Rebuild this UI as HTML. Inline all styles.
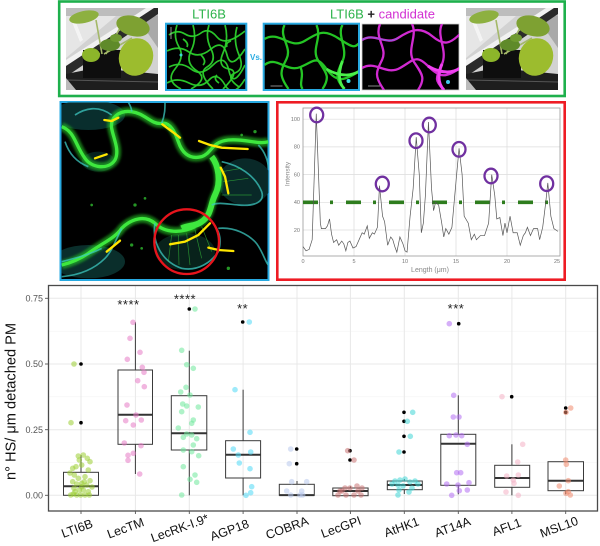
<!DOCTYPE html>
<html><head><meta charset="utf-8"><style>
html,body{margin:0;padding:0;background:#fff;}
svg{display:block;}
text{font-family:"Liberation Sans",sans-serif;}
</style></head><body>
<svg width="600" height="546" viewBox="0 0 600 546" xmlns="http://www.w3.org/2000/svg">
<defs>
<filter id="glow" x="-20%" y="-20%" width="140%" height="140%"><feGaussianBlur stdDeviation="4"/></filter>
<clipPath id="cBig" clipPathUnits="userSpaceOnUse"><rect x="20" y="22" width="620" height="528"/></clipPath>
<clipPath id="cA"><rect x="0" y="0" width="78" height="64"/></clipPath>
<clipPath id="cB"><rect x="0" y="0" width="93.5" height="64"/></clipPath>
<clipPath id="cC"><rect x="0" y="0" width="97" height="66"/></clipPath>
<clipPath id="cP"><rect x="0" y="0" width="92" height="82"/></clipPath>
<g id="plant">
 <g clip-path="url(#cP)">
 <rect x="0" y="0" width="92" height="82" fill="#d2d2d2"/>
 <rect x="0" y="0" width="92" height="8" fill="#bdbdbd"/>
 <polygon points="0,8 50,8 0,50" fill="#e6e6e6"/>
 <polygon points="70,8 92,8 92,40" fill="#a9a9a9"/>
 <polygon points="0,52 80,0 88,0 0,58" fill="#f2f2f2"/>
 <polygon points="0,58 88,0 92,0 92,6 4,66 0,66" fill="#2a2a2a"/>
 <polygon points="6,14 9,12 17,32 14,34" fill="#f4f4f4"/>
 <polygon points="0,66 30,60 92,66 92,82 0,82" fill="#1e1e1e"/>
 <line x1="0" y1="72" x2="92" y2="74" stroke="#555" stroke-width="1"/>
 <polygon points="0,70 10,82 0,82" fill="#bbb"/>
 <rect x="17" y="42" width="38" height="28" fill="#0e0e0e"/>
 <path d="M36,46 L30,12 M40,46 L55,18 M38,46 L66,30 M34,46 L22,44" stroke="#a4b868" stroke-width="1.6" fill="none"/>
 <ellipse cx="18" cy="9" rx="15" ry="6" fill="#8db040" transform="rotate(-12 18 9)"/>
 <ellipse cx="67" cy="18" rx="17" ry="10" fill="#7ea132" transform="rotate(15 67 18)"/>
 <ellipse cx="44" cy="37" rx="10" ry="6" fill="#5f8a2a"/>
 <ellipse cx="25" cy="47" rx="9" ry="7" fill="#8cb52a"/>
 <ellipse cx="70" cy="49" rx="17" ry="19" fill="#9cbc2e" transform="rotate(20 70 49)"/>
 <ellipse cx="50" cy="30" rx="6" ry="4" fill="#6f9a30"/>
 </g>
</g>
</defs>

<!-- ===== TOP PANEL ===== -->
<rect x="59.2" y="1.5" width="505.5" height="94.5" fill="#fff" stroke="#1eb04c" stroke-width="2.6"/>
<use href="#plant" transform="translate(66,8)"/>
<use href="#plant" transform="translate(466,8)"/>

<!-- LTI6B image -->
<rect x="166" y="23.7" width="80.3" height="66.3" fill="#000" stroke="#27a9e1" stroke-width="2"/>
<g transform="translate(167,25)">
<g clip-path="url(#cA)" fill="none">
 <g stroke="#2ccf2c" stroke-width="1.7" stroke-opacity="0.95">
 <path d="M2,10 Q10,4 18,9 T34,8 T50,12 T78,6"/>
 <path d="M0,26 Q12,20 22,27 T44,24 T60,30 T78,24"/>
 <path d="M2,42 Q14,36 24,44 T46,40 T62,46 T78,40"/>
 <path d="M0,58 Q10,52 22,58 T42,55 T58,60 T78,54"/>
 <path d="M10,0 Q6,12 12,22 T8,44 T14,64"/>
 <path d="M26,0 Q30,14 24,26 T30,46 T24,64"/>
 <path d="M42,0 Q38,12 44,24 T40,42 T46,64"/>
 <path d="M58,0 Q62,14 56,28 T62,44 T56,64"/>
 <path d="M70,2 Q66,16 72,30 T68,48 T72,62"/>
 <path d="M16,14 q6,4 4,8 M34,30 q6,6 2,10 M50,50 q-4,4 2,8 M64,16 q-6,2 -4,6"/>
 </g>
 <circle cx="14" cy="30" r="1.5" fill="#3cd8d8"/>
 <line x1="4" y1="2" x2="4" y2="14" stroke="#bbb" stroke-width="0.8"/>
</g>
</g>
<text x="250" y="60" font-size="8" font-weight="bold" fill="#29abe2">Vs.</text>

<!-- LTI6B + candidate green -->
<rect x="263.7" y="23.7" width="95.3" height="66.3" fill="#000" stroke="#27a9e1" stroke-width="2"/>
<g transform="translate(264.5,25)">
<g clip-path="url(#cB)" fill="none">
 <g stroke="#24c424" stroke-width="2.3">
 <path d="M0,14 C15,5 25,25 40,16 S60,4 75,14 S90,22 95,18"/>
 <path d="M0,40 C12,30 22,48 36,42 S52,30 62,44 S80,56 95,46"/>
 <path d="M20,0 C14,12 28,22 22,34 S14,50 24,64"/>
 <path d="M52,0 C58,14 46,24 54,36 S66,52 58,64"/>
 <path d="M78,0 C72,10 84,24 78,36 S70,54 80,64"/>
 <path d="M36,42 C40,52 34,58 38,64"/>
 </g>
 <path d="M62,44 S80,56 95,46 M78,36 S70,54 80,64" stroke="#4af04a" stroke-width="2.8"/>
 <circle cx="84" cy="56" r="2" fill="#3ce0e0"/>
 <line x1="6" y1="61" x2="18" y2="61" stroke="#aaa" stroke-width="0.8"/>
</g>
</g>

<!-- candidate magenta -->
<rect x="362" y="24" width="97" height="66" fill="#000" stroke="#ccc" stroke-width="0.8"/>
<g transform="translate(362,24)">
<g clip-path="url(#cC)" fill="none">
 <g stroke="#d22ad2" stroke-width="2.3">
 <path d="M0,16 C12,8 24,22 36,14 S58,2 70,12 S88,20 98,10"/>
 <path d="M0,44 C14,36 24,52 38,44 S54,30 66,42 S84,54 98,44"/>
 <path d="M18,0 C12,14 26,24 20,36 S12,52 22,66"/>
 <path d="M50,0 C56,12 44,26 52,38 S64,54 56,66"/>
 <path d="M80,0 C74,12 86,26 80,40 S72,56 82,66"/>
 </g>
 <path d="M66,42 S84,54 98,44 M80,40 S72,56 82,66" stroke="#f040f0" stroke-width="3"/>
 <path d="M0,16 C12,8 24,22 36,14" stroke="#6a7ad8" stroke-width="1" stroke-opacity="0.7"/>
 <circle cx="86" cy="58" r="2" fill="#40c8e8"/>
 <line x1="6" y1="62" x2="18" y2="62" stroke="#aaa" stroke-width="0.8"/>
</g>
</g>

<text x="209" y="18.6" font-size="13" fill="#2cb34a" text-anchor="middle">LTI6B</text>
<text x="382.5" y="18.6" font-size="13" text-anchor="middle"><tspan fill="#2cb34a">LTI6B</tspan><tspan fill="#222" font-weight="bold"> + </tspan><tspan fill="#d22fd2">candidate</tspan></text>

<!-- ===== MIDDLE LEFT MICROSCOPY ===== -->
<rect x="60.5" y="102" width="208" height="178" fill="#000" stroke="#27a9e1" stroke-width="2"/>
<g transform="translate(55,95) scale(0.33333)">
 <g clip-path="url(#cBig)" fill="none">
  <ellipse cx="100" cy="60" rx="110" ry="45" fill="#0b3a38" opacity="0.8"/>
  <ellipse cx="570" cy="260" rx="80" ry="70" fill="#0a2e2c" opacity="0.9"/>
  <ellipse cx="100" cy="500" rx="110" ry="50" fill="#0c3a36" opacity="0.8"/>
  <ellipse cx="390" cy="470" rx="90" ry="55" fill="#0a2a22" opacity="0.8"/>
  <ellipse cx="130" cy="200" rx="50" ry="30" fill="#092a26" opacity="0.8"/>
  <g filter="url(#glow)" stroke="#2bd82b" stroke-width="26" stroke-opacity="0.55">
   <path d="M20,95 C60,110 60,150 90,190 C110,220 160,225 180,195 C195,165 175,130 170,100 C165,70 190,45 230,50 C270,55 290,90 320,85 C345,80 360,110 370,140 C380,170 400,195 440,185 C470,175 470,140 520,135 C570,130 610,150 640,140"/>
   <path d="M470,185 C490,210 500,260 480,300 C465,330 470,360 440,380 C420,395 400,390 380,400"/>
   <path d="M420,395 C380,415 330,415 300,385 C270,360 230,370 200,400 C180,430 140,445 100,475 C70,495 40,505 20,510"/>
  </g>
  <g stroke="#3ee83e" stroke-width="10">
   <path d="M20,95 C60,110 60,150 90,190 C110,220 160,225 180,195 C195,165 175,130 170,100 C165,70 190,45 230,50 C270,55 290,90 320,85 C345,80 360,110 370,140 C380,170 400,195 440,185 C470,175 470,140 520,135 C570,130 610,150 640,140"/>
   <path d="M470,185 C490,210 500,260 480,300 C465,330 470,360 440,380 C420,395 400,390 380,400" stroke-width="18"/>
   <path d="M420,395 C380,415 330,415 300,385 C270,360 230,370 200,400 C180,430 140,445 100,475 C70,495 40,505 20,510"/>
  </g>
  <g stroke="#3cc8c0" stroke-width="5" stroke-opacity="0.75">
   <path d="M300,385 C290,440 320,500 380,520 C430,530 470,500 490,470 C500,440 495,410 480,395"/>
   <path d="M500,200 C550,210 600,240 620,290 C630,320 600,335 550,330 C520,328 490,320 470,330"/>
   <path d="M490,400 C540,395 580,420 600,440 C620,460 630,500 640,510"/>
   <path d="M610,150 C630,170 640,200 640,220"/>
   <path d="M320,85 C330,60 330,40 330,22 M230,50 C230,40 225,30 220,22"/>
   <path d="M20,500 C60,490 100,480 140,460 M200,400 C180,440 170,470 150,490 C120,520 80,540 20,545"/>
   <path d="M60,60 C90,40 130,30 170,60 M30,140 C40,170 60,200 100,215"/>
  </g>
  <g stroke="#3dd83d" stroke-width="2" stroke-opacity="0.6">
   <path d="M350,420 L340,500 M370,420 L372,510 M395,415 L405,510 M420,405 L440,490 M440,395 L470,470"/>
   <path d="M500,230 L560,220 M505,260 L580,250 M500,300 L590,300"/>
  </g>
  <g fill="#36d636" opacity="0.7">
   <circle cx="240" cy="330" r="5"/><circle cx="270" cy="310" r="4"/><circle cx="230" cy="450" r="5"/><circle cx="260" cy="460" r="4"/>
   <circle cx="110" cy="330" r="4"/><circle cx="600" cy="110" r="5"/><circle cx="560" cy="120" r="4"/><circle cx="520" cy="520" r="5"/>
  </g>
  <g stroke="#ffe600" stroke-width="7" stroke-linecap="round">
   <path d="M148,75 L170,78 L190,68"/>
   <path d="M322,88 L345,105 L365,120 L375,128"/>
   <path d="M432,138 L465,150 L500,158 L578,162"/>
   <path d="M120,190 L155,178"/>
   <path d="M497,218 L510,245 L520,295"/>
   <path d="M155,470 L195,437"/>
   <path d="M345,448 L390,440 L430,420 L465,385"/>
   <path d="M460,458 L490,465 L535,468"/>
  </g>
  <circle cx="395" cy="440" r="97" stroke="#e8141c" stroke-width="7"/>
 </g>
</g>

<!-- ===== MIDDLE RIGHT PROFILE CHART ===== -->
<rect x="277.3" y="102.3" width="287.4" height="177.4" fill="#fff" stroke="#ee1c24" stroke-width="2.6"/>
<g stroke="#dcdcdc" stroke-width="0.7">
 <line x1="354" y1="108" x2="354" y2="256"/><line x1="405" y1="108" x2="405" y2="256"/>
 <line x1="456" y1="108" x2="456" y2="256"/><line x1="507" y1="108" x2="507" y2="256"/>
 <line x1="303" y1="119.2" x2="560" y2="119.2"/><line x1="303" y1="146.9" x2="560" y2="146.9"/>
 <line x1="303" y1="174.6" x2="560" y2="174.6"/><line x1="303" y1="202.3" x2="560" y2="202.3"/>
 <line x1="303" y1="230" x2="560" y2="230"/>
</g>
<rect x="303" y="108" width="257" height="148" fill="none" stroke="#999" stroke-width="0.8"/>
<g font-size="5.5" fill="#777" text-anchor="end">
 <text x="300" y="121">100</text><text x="300" y="148.7">80</text><text x="300" y="176.4">60</text>
 <text x="300" y="204.1">40</text><text x="300" y="231.8">20</text>
</g>
<g font-size="5.5" fill="#777" text-anchor="middle">
 <text x="303" y="263">0</text><text x="354" y="263">5</text><text x="405" y="263">10</text>
 <text x="456" y="263">15</text><text x="507" y="263">20</text><text x="557" y="263">25</text>
</g>
<text x="0" y="0" font-size="6.5" fill="#888" text-anchor="middle" transform="translate(289.5,174) rotate(-90)">Intensity</text>
<text x="430" y="272" font-size="7" fill="#888" text-anchor="middle">Length (μm)</text>
<line x1="303" y1="202.3" x2="560" y2="202.3" stroke="#2e7d1e" stroke-width="3.6" stroke-dasharray="15 12 3 13"/>
<g transform="translate(303,257.7) scale(10.2,-1.385)">
<polyline fill="none" stroke="#555" stroke-width="0.7" vector-effect="non-scaling-stroke" points="0,8 0.3,5 0.6,6 0.9,13 1.3,104 1.7,25 1.8,21 2.2,21 2.4,23 2.6,28 2.8,17 3.0,11 3.3,13 3.5,9 3.8,12 4.0,10 4.2,5 4.4,11 4.6,12 4.9,7 5.2,8 5.5,13 5.8,18 6.0,17 6.3,23 6.5,14 6.8,18 7.0,17 7.3,22 7.5,52 7.8,30 8.0,26 8.3,9 8.6,15 8.8,13 9.0,8 9.2,4 9.5,15 9.8,10 10.0,5 10.2,4 10.5,30 10.8,50 11.1,87 11.4,60 11.6,18 11.8,25 12.0,45 12.3,98 12.6,50 12.8,34 13.0,40 13.3,38 13.6,25 13.8,15 14.0,21 14.3,17 14.6,22 15.0,55 15.3,79 15.6,60 15.8,30 16.2,25 16.5,13 16.8,17 17.0,13 17.4,16 17.8,16 18.2,25 18.5,60 18.8,45 19.0,28 19.3,29 19.6,16 19.8,25 20.0,18 20.3,30 20.6,18 21.0,18 21.3,9 21.6,16 21.8,18 22.0,22 22.3,16 22.6,21 23.0,21 23.2,13 23.5,22 23.8,40 24.0,54 24.3,30 24.6,21 25.0,19"/>
</g>
<g fill="none" stroke="#7030a0" stroke-width="2.3">
 <ellipse cx="316.7" cy="115" rx="6.5" ry="7.3"/>
 <ellipse cx="382.3" cy="184" rx="6.5" ry="7.3"/>
 <ellipse cx="416" cy="140.7" rx="6.5" ry="7.3"/>
 <ellipse cx="429.3" cy="125" rx="6.5" ry="7.3"/>
 <ellipse cx="459" cy="149.3" rx="6.5" ry="7.3"/>
 <ellipse cx="491" cy="176" rx="6.5" ry="7.3"/>
 <ellipse cx="546.7" cy="183.7" rx="6.5" ry="7.3"/>
</g>

<!-- ===== BOXPLOT ===== -->
<rect x="48.5" y="285.5" width="549" height="225.5" fill="#fff"/>
<g stroke="#f3f3f3" stroke-width="0.6">
 <line x1="48.5" y1="462.5" x2="597.5" y2="462.5"/><line x1="48.5" y1="396.8" x2="597.5" y2="396.8"/>
 <line x1="48.5" y1="331.2" x2="597.5" y2="331.2"/>
</g>
<g stroke="#e8e8e8" stroke-width="1">
 <line x1="48.5" y1="495.3" x2="597.5" y2="495.3"/><line x1="48.5" y1="429.7" x2="597.5" y2="429.7"/>
 <line x1="48.5" y1="364" x2="597.5" y2="364"/><line x1="48.5" y1="298.3" x2="597.5" y2="298.3"/>
 <line x1="81" y1="285.5" x2="81" y2="511"/><line x1="135.4" y1="285.5" x2="135.4" y2="511"/>
 <line x1="189.3" y1="285.5" x2="189.3" y2="511"/><line x1="243.1" y1="285.5" x2="243.1" y2="511"/>
 <line x1="297" y1="285.5" x2="297" y2="511"/><line x1="350.4" y1="285.5" x2="350.4" y2="511"/>
 <line x1="404.3" y1="285.5" x2="404.3" y2="511"/><line x1="458.3" y1="285.5" x2="458.3" y2="511"/>
 <line x1="511.9" y1="285.5" x2="511.9" y2="511"/><line x1="565.7" y1="285.5" x2="565.7" y2="511"/>
</g>

<!-- boxes -->
<g stroke="#3a3a3a" stroke-width="1" fill="none">
 <line x1="81" y1="455" x2="81" y2="472.3"/><rect x="63.5" y="472.3" width="35" height="23"/>
 <line x1="135.4" y1="322.3" x2="135.4" y2="370"/><line x1="135.4" y1="444.3" x2="135.4" y2="474"/><rect x="118" y="370" width="34.5" height="74.3"/>
 <line x1="189.3" y1="350.7" x2="189.3" y2="395.7"/><line x1="189.3" y1="450" x2="189.3" y2="495.3"/><rect x="171.3" y="395.7" width="35.5" height="54.3"/>
 <line x1="243.1" y1="389.7" x2="243.1" y2="440.7"/><line x1="243.1" y1="478" x2="243.1" y2="495.3"/><rect x="225.6" y="440.7" width="35" height="37.3"/>
 <line x1="297" y1="481" x2="297" y2="484.3"/><rect x="279.3" y="484.3" width="35" height="11"/>
 <line x1="350.4" y1="486.3" x2="350.4" y2="488"/><rect x="332.8" y="488" width="35.3" height="7.7"/>
 <line x1="404.3" y1="479" x2="404.3" y2="481"/><line x1="404.3" y1="489.7" x2="404.3" y2="494"/><rect x="387.3" y="481" width="35" height="8.7"/>
 <line x1="458.3" y1="395.3" x2="458.3" y2="434.3"/><line x1="458.3" y1="485.3" x2="458.3" y2="494.3"/><rect x="440.8" y="434.3" width="35" height="51"/>
 <line x1="511.9" y1="444.3" x2="511.9" y2="465.3"/><line x1="511.9" y1="487.3" x2="511.9" y2="495.3"/><rect x="494.7" y="465.3" width="35" height="22"/>
 <line x1="565.7" y1="490.7" x2="565.7" y2="494.3"/><rect x="548" y="461.7" width="35.5" height="29"/>
</g>
<g stroke="#333" stroke-width="2">
 <line x1="63.5" y1="486.3" x2="98.5" y2="486.3"/>
 <line x1="118" y1="414.7" x2="152.5" y2="414.7"/>
 <line x1="171.3" y1="433.3" x2="206.8" y2="433.3"/>
 <line x1="225.6" y1="454.7" x2="260.6" y2="454.7"/>
 <line x1="279.3" y1="495.1" x2="314.3" y2="495.1"/>
 <line x1="332.8" y1="491" x2="368.1" y2="491"/>
 <line x1="387.3" y1="485" x2="422.3" y2="485"/>
 <line x1="440.8" y1="443.7" x2="475.8" y2="443.7"/>
 <line x1="494.7" y1="478" x2="529.7" y2="478"/>
 <line x1="548" y1="480.7" x2="583.5" y2="480.7"/>
</g>

<!-- outliers black -->
<g fill="#000">
 <circle cx="81" cy="364" r="1.8"/><circle cx="81" cy="422.7" r="1.8"/>
 <circle cx="189.3" cy="309" r="1.8"/>
 <circle cx="242.7" cy="322" r="1.8"/>
 <circle cx="296.7" cy="449" r="1.8"/><circle cx="296.7" cy="463.7" r="1.8"/>
 <circle cx="350" cy="450.7" r="1.8"/><circle cx="350" cy="460" r="1.8"/>
 <circle cx="404" cy="412.3" r="1.8"/><circle cx="404" cy="421.3" r="1.8"/><circle cx="404" cy="436.3" r="1.8"/><circle cx="404" cy="452" r="1.8"/>
 <circle cx="458.7" cy="323.7" r="1.8"/>
 <circle cx="511.7" cy="396.7" r="1.8"/>
 <circle cx="565.7" cy="408" r="1.8"/><circle cx="565.7" cy="412.3" r="1.8"/>
</g>

<!-- jitter points -->
<g fill-opacity="0.55">
<g fill="#9acd32">
 <circle cx="74" cy="364" r="2.8"/><circle cx="71" cy="422.7" r="2.8"/>
 <circle cx="78.3" cy="456" r="2.8"/><circle cx="83.3" cy="455" r="2.8"/><circle cx="87.3" cy="458.3" r="2.8"/><circle cx="90" cy="461.7" r="2.8"/>
 <circle cx="79.3" cy="460" r="2.8"/><circle cx="81.7" cy="465" r="2.8"/><circle cx="72.7" cy="468.3" r="2.8"/><circle cx="88.3" cy="470" r="2.8"/>
 <circle cx="74.3" cy="475" r="2.8"/><circle cx="78.3" cy="478.3" r="2.8"/><circle cx="85" cy="476.7" r="2.8"/><circle cx="90" cy="480.7" r="2.8"/>
 <circle cx="72.7" cy="481.7" r="2.8"/><circle cx="76.7" cy="484" r="2.8"/><circle cx="81.7" cy="483.3" r="2.8"/><circle cx="86.7" cy="485" r="2.8"/>
 <circle cx="74" cy="488.3" r="2.8"/><circle cx="79.3" cy="490" r="2.8"/><circle cx="83.3" cy="490" r="2.8"/><circle cx="88.3" cy="491.7" r="2.8"/>
 <circle cx="73.3" cy="494" r="2.8"/><circle cx="76.7" cy="495" r="2.8"/><circle cx="80.7" cy="495" r="2.8"/><circle cx="85" cy="495" r="2.8"/>
 <circle cx="89.3" cy="495" r="2.8"/><circle cx="70.7" cy="495" r="2.8"/><circle cx="75" cy="491.7" r="2.8"/><circle cx="81.7" cy="486.7" r="2.8"/>
 <circle cx="84.3" cy="481.7" r="2.8"/><circle cx="76" cy="466.7" r="2.8"/><circle cx="70" cy="473" r="2.8"/><circle cx="92" cy="487" r="2.8"/>
</g>
<g fill="#e67ac4">
 <circle cx="133" cy="322.3" r="2.8"/><circle cx="130" cy="338.3" r="2.8"/><circle cx="140" cy="352.3" r="2.8"/><circle cx="127.3" cy="359.3" r="2.8"/>
 <circle cx="142.3" cy="367.3" r="2.8"/><circle cx="144" cy="372.3" r="2.8"/><circle cx="137.7" cy="380.7" r="2.8"/><circle cx="144.3" cy="386.7" r="2.8"/>
 <circle cx="127" cy="405" r="2.8"/><circle cx="136" cy="415" r="2.8"/><circle cx="125.7" cy="420.7" r="2.8"/><circle cx="141.3" cy="420" r="2.8"/>
 <circle cx="133.3" cy="425" r="2.8"/><circle cx="124.3" cy="443" r="2.8"/><circle cx="128" cy="455.3" r="2.8"/><circle cx="133.3" cy="453.3" r="2.8"/>
 <circle cx="128" cy="460.3" r="2.8"/><circle cx="141" cy="445.7" r="2.8"/><circle cx="139.7" cy="474" r="2.8"/>
</g>
<g fill="#6ee89a">
 <circle cx="195" cy="309" r="2.8"/>
 <circle cx="181.7" cy="350.3" r="2.8"/><circle cx="186.7" cy="364.7" r="2.8"/><circle cx="193.3" cy="368.3" r="2.8"/><circle cx="180.7" cy="392" r="2.8"/>
 <circle cx="186" cy="387.3" r="2.8"/><circle cx="182.7" cy="404" r="2.8"/><circle cx="186.7" cy="406" r="2.8"/><circle cx="190" cy="395" r="2.8"/>
 <circle cx="198.3" cy="407" r="2.8"/><circle cx="181.7" cy="411.7" r="2.8"/><circle cx="191.7" cy="423.3" r="2.8"/><circle cx="193.3" cy="420" r="2.8"/>
 <circle cx="178.3" cy="428" r="2.8"/><circle cx="183.3" cy="437.3" r="2.8"/><circle cx="186.7" cy="434" r="2.8"/><circle cx="191.7" cy="435" r="2.8"/>
 <circle cx="196.7" cy="438.7" r="2.8"/><circle cx="193.3" cy="445" r="2.8"/><circle cx="183.3" cy="450" r="2.8"/><circle cx="191.7" cy="451.7" r="2.8"/>
 <circle cx="198.7" cy="455.7" r="2.8"/><circle cx="183.3" cy="466.7" r="2.8"/><circle cx="195" cy="475" r="2.8"/><circle cx="190" cy="479.3" r="2.8"/>
 <circle cx="196.7" cy="482.3" r="2.8"/><circle cx="181.7" cy="495" r="2.8"/>
</g>
<g fill="#4fd9f5">
 <circle cx="249.3" cy="322" r="2.8"/>
 <circle cx="235" cy="389.7" r="2.8"/><circle cx="250" cy="432.3" r="2.8"/><circle cx="233.3" cy="449" r="2.8"/><circle cx="238.3" cy="455" r="2.8"/>
 <circle cx="250.7" cy="452" r="2.8"/><circle cx="239.3" cy="463" r="2.8"/><circle cx="250" cy="468.7" r="2.8"/><circle cx="251.7" cy="486.7" r="2.8"/>
 <circle cx="250.7" cy="492.7" r="2.8"/><circle cx="246" cy="495.3" r="2.8"/>
</g>
<g fill="#b8c8ec">
 <circle cx="290.7" cy="449" r="2.8"/><circle cx="289.3" cy="463.7" r="2.8"/><circle cx="291.7" cy="481.7" r="2.8"/><circle cx="306.7" cy="481.7" r="2.8"/>
 <circle cx="286.7" cy="491" r="2.8"/><circle cx="290.7" cy="495" r="2.8"/><circle cx="300" cy="495" r="2.8"/><circle cx="302.7" cy="495" r="2.8"/><circle cx="301.7" cy="491" r="2.8"/>
</g>
<g fill="#c97272">
 <circle cx="347.7" cy="450.7" r="2.8"/><circle cx="354" cy="460" r="2.8"/>
 <circle cx="338" cy="495" r="2.8"/><circle cx="342" cy="491" r="2.8"/><circle cx="346" cy="495" r="2.8"/><circle cx="350" cy="488" r="2.8"/>
 <circle cx="354" cy="495" r="2.8"/><circle cx="358" cy="491" r="2.8"/><circle cx="362" cy="488" r="2.8"/><circle cx="345" cy="488" r="2.8"/>
 <circle cx="357" cy="486" r="2.8"/><circle cx="340" cy="491" r="2.8"/><circle cx="361" cy="495" r="2.8"/>
</g>
<g fill="#3fd5d5">
 <circle cx="412.7" cy="412.3" r="2.8"/><circle cx="407.3" cy="421.3" r="2.8"/><circle cx="410.3" cy="436.3" r="2.8"/><circle cx="399" cy="452" r="2.8"/>
 <circle cx="395" cy="481" r="2.8"/><circle cx="400" cy="480" r="2.8"/><circle cx="405" cy="479" r="2.8"/><circle cx="410" cy="482" r="2.8"/>
 <circle cx="415" cy="481" r="2.8"/><circle cx="418" cy="484" r="2.8"/><circle cx="398" cy="485" r="2.8"/><circle cx="403" cy="486" r="2.8"/>
 <circle cx="412" cy="488" r="2.8"/><circle cx="392" cy="484" r="2.8"/><circle cx="399" cy="490" r="2.8"/><circle cx="409" cy="492" r="2.8"/><circle cx="398" cy="495" r="2.8"/>
</g>
<g fill="#b26ef2">
 <circle cx="449.3" cy="323.7" r="2.8"/>
 <circle cx="453.7" cy="395.3" r="2.8"/><circle cx="453.3" cy="417" r="2.8"/><circle cx="459" cy="417" r="2.8"/><circle cx="449.3" cy="435.7" r="2.8"/>
 <circle cx="456" cy="435" r="2.8"/><circle cx="461.7" cy="435.7" r="2.8"/><circle cx="467.3" cy="444.3" r="2.8"/><circle cx="456.7" cy="472.7" r="2.8"/>
 <circle cx="460.7" cy="472.7" r="2.8"/><circle cx="458" cy="485" r="2.8"/><circle cx="469" cy="482.7" r="2.8"/><circle cx="459.3" cy="490.7" r="2.8"/>
 <circle cx="467.3" cy="490" r="2.8"/><circle cx="451.7" cy="495.3" r="2.8"/><circle cx="446.7" cy="484" r="2.8"/>
</g>
<g fill="#f4b0c4">
 <circle cx="502" cy="396.7" r="2.8"/>
 <circle cx="522.7" cy="444.3" r="2.8"/><circle cx="517.7" cy="462" r="2.8"/><circle cx="506.7" cy="476" r="2.8"/><circle cx="518.3" cy="475" r="2.8"/>
 <circle cx="513.3" cy="480" r="2.8"/><circle cx="506" cy="492" r="2.8"/><circle cx="518.3" cy="495.3" r="2.8"/><circle cx="514" cy="483.3" r="2.8"/>
</g>
<g fill="#f08a6e">
 <circle cx="570.7" cy="408" r="2.8"/><circle cx="566" cy="412.3" r="2.8"/>
 <circle cx="565.7" cy="460" r="2.8"/><circle cx="566.3" cy="464.3" r="2.8"/><circle cx="559.3" cy="486" r="2.8"/><circle cx="568.3" cy="480.7" r="2.8"/>
 <circle cx="568.3" cy="491.7" r="2.8"/><circle cx="570.3" cy="495" r="2.8"/><circle cx="566" cy="493.3" r="2.8"/>
</g>
</g>

<!-- panel border -->
<rect x="48.5" y="285.5" width="549" height="225.5" fill="none" stroke="#4a4a4a" stroke-width="1.3"/>

<!-- significance stars -->
<g font-size="13" fill="#222" text-anchor="middle" letter-spacing="0.5">
 <text x="128.5" y="309">****</text>
 <text x="185" y="303.6">****</text>
 <text x="242.7" y="313">**</text>
 <text x="456" y="313">***</text>
</g>

<!-- axis ticks + labels -->
<g stroke="#555" stroke-width="0.9">
 <line x1="45" y1="495.3" x2="48.5" y2="495.3"/><line x1="45" y1="429.7" x2="48.5" y2="429.7"/>
 <line x1="45" y1="364" x2="48.5" y2="364"/><line x1="45" y1="298.3" x2="48.5" y2="298.3"/>
 <line x1="81" y1="511" x2="81" y2="514"/><line x1="135.4" y1="511" x2="135.4" y2="514"/>
 <line x1="189.3" y1="511" x2="189.3" y2="514"/><line x1="243.1" y1="511" x2="243.1" y2="514"/>
 <line x1="297" y1="511" x2="297" y2="514"/><line x1="350.4" y1="511" x2="350.4" y2="514"/>
 <line x1="404.3" y1="511" x2="404.3" y2="514"/><line x1="458.3" y1="511" x2="458.3" y2="514"/>
 <line x1="511.9" y1="511" x2="511.9" y2="514"/><line x1="565.7" y1="511" x2="565.7" y2="514"/>
</g>
<g font-size="9" fill="#555" text-anchor="end">
 <text x="43" y="498.5">0.00</text><text x="43" y="432.9">0.25</text>
 <text x="43" y="367.2">0.50</text><text x="43" y="301.5">0.75</text>
</g>
<text x="0" y="0" font-size="14.6" fill="#111" text-anchor="middle" transform="translate(15.5,401.5) rotate(-90)">n° HS/ μm detached PM</text>

<!-- x labels -->
<g font-size="12.5" fill="#111" text-anchor="middle">
 <text x="77" y="532.7" transform="rotate(-20 77 528.4)">LTI6B</text>
 <text x="125.5" y="532.3" transform="rotate(-20 125.5 528)">LecTM</text>
 <text x="179.7" y="532.3" transform="rotate(-20 179.7 528)">LecRK-I.9*</text>
 <text x="229.5" y="534.3" transform="rotate(-20 229.5 530)">AGP18</text>
 <text x="287" y="532" transform="rotate(-20 287 527.7)">COBRA</text>
 <text x="341" y="531.3" transform="rotate(-20 341 527)">LecGPI</text>
 <text x="401.5" y="531.3" transform="rotate(-20 401.5 527)">AtHK1</text>
 <text x="452.5" y="531.3" transform="rotate(-20 452.5 527)">AT14A</text>
 <text x="506.7" y="531.3" transform="rotate(-20 506.7 527)">AFL1</text>
 <text x="559" y="531.3" transform="rotate(-20 559 527)">MSL10</text>
</g>
</svg>
</body></html>
